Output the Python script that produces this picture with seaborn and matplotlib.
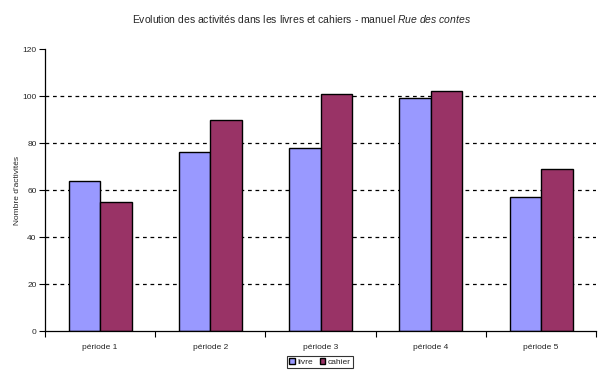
import pandas as pd
import matplotlib
matplotlib.use("Agg")
import matplotlib.pyplot as plt
import seaborn as sn

periodes = ["période 1", "période 2", "période 3", "période 4", "période 5"]
livre = [64, 76, 78, 99, 57]
cahier = [55, 90, 101, 102, 69]
series = ["livre", "cahier"]
couleurs = ["#9999FF", "#993366"]

df = pd.DataFrame({
    "periode": periodes * 2,
    "serie": ["livre"] * len(periodes) + ["cahier"] * len(periodes),
    "valeur": livre + cahier,
})

sn.set_style("white")
plt.rcParams["font.family"] = ["Liberation Sans", "DejaVu Sans"]
plt.rcParams["mathtext.fontset"] = "custom"
plt.rcParams["mathtext.it"] = "Liberation Sans:italic"
plt.rcParams["mathtext.rm"] = "Liberation Sans"

fig = plt.figure(figsize=(6.04, 3.75), dpi=100)
ax = fig.add_axes([0.0745, 0.1173, 0.9125, 0.752])

sn.barplot(data=df, x="periode", y="valeur", hue="serie",
           order=periodes, hue_order=series, palette=couleurs,
           width=0.572, gap=0, edgecolor="black", linewidth=1,
           saturation=1, legend=True, ax=ax)

ax.set_ylim(0, 120)
ax.set_xlim(-0.5, 4.5)
ax.set_yticks(range(0, 121, 20))
for y in range(20, 101, 20):
    ax.axhline(y, color="black", linestyle=(0, (3, 3)), linewidth=0.9, zorder=0)

ax.set_xticks([i - 0.5 for i in range(6)], minor=True)
ax.tick_params(axis="x", which="major", length=0, labelsize=6, pad=9)
ax.tick_params(axis="x", which="minor", length=4, width=0.8, direction="out", color="black", bottom=True)
ax.tick_params(axis="y", length=4, width=0.8, direction="out", color="black", left=True, labelsize=6, pad=2)

for s in ["top", "right"]:
    ax.spines[s].set_visible(False)
for s in ["left", "bottom"]:
    ax.spines[s].set_color("black")
    ax.spines[s].set_linewidth(0.9)

ax.set_xlabel("")
ax.set_ylabel("Nombre d'activités", fontsize=6, labelpad=1)

leg = ax.legend(loc="center", bbox_to_anchor=(320 / 604, 1 - 362 / 375),
                bbox_transform=fig.transFigure, ncol=2, fontsize=6,
                frameon=True, fancybox=False, edgecolor="black",
                handlelength=0.7, handleheight=0.7, handletextpad=0.3,
                columnspacing=0.8, borderpad=0.2, borderaxespad=0)
leg.get_frame().set_linewidth(0.8)

fig.text(0.5, 1 - 19 / 375, "Evolution des activités dans les livres et cahiers - manuel $\\mathit{Rue\\ des\\ contes}$",
         ha="center", va="center", fontsize=7.5)

fig.savefig("out.png", dpi=100, facecolor="white")
